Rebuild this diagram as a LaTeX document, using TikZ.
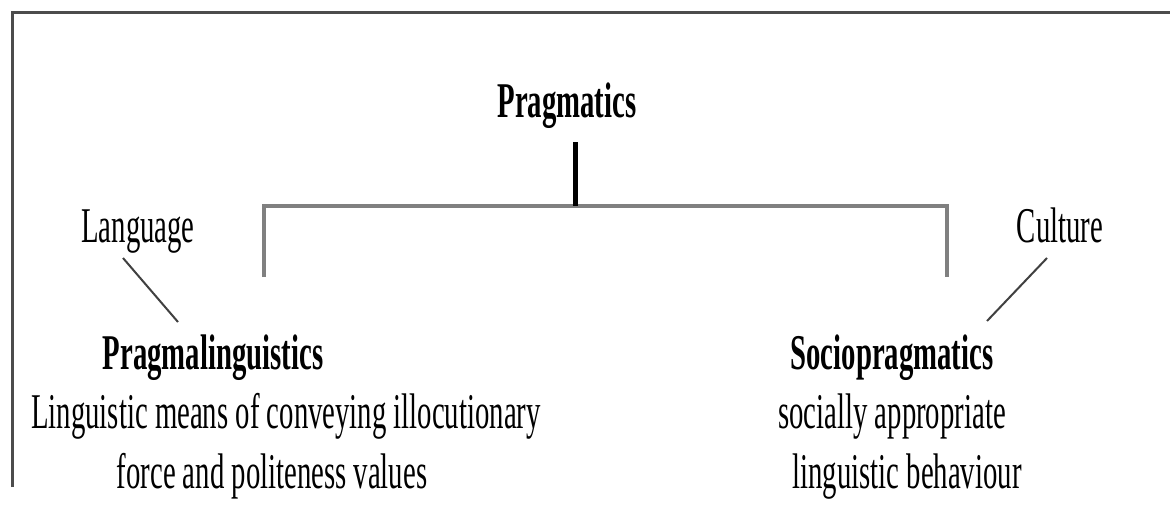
\documentclass[tikz,border=0pt]{standalone}
\usepackage{fontspec}
\setmainfont{Liberation Serif}[FakeStretch=0.575]
\usepackage{tikz}
\usetikzlibrary{positioning}

\tikzset{
  txt/.style={font=\fontsize{25}{30}\selectfont, inner sep=0pt, anchor=base, text=black},
  head/.style={txt, font=\fontsize{25}{30}\selectfont\bfseries},
  frameline/.style={draw=black!70, line width=1.5pt},
  tree/.style={draw=black!50, line width=2pt},
  slant/.style={draw=black!75, line width=1pt}
}

\begin{document}
\begin{tikzpicture}[x=0.5pt, y=-0.5pt]
    \useasboundingbox (0,0) rectangle (1170,520);

    % frame, only top and left sides show
    \draw [frameline] (12,487) -- (12,12) -- (1170,12);

    \node (prag) [head] at (567,117) {Pragmatics};

    \node (lang) [txt] at (138,242) {Language};
    \node (cult) [txt] at (1060,242) {Culture};

    \node (pling) [head] at (213,369) {Pragmalinguistics};
    \node (pmeans) [txt] at (286,428) {Linguistic means of conveying illocutionary};
    \node (pvalues) [txt] at (272,488) {force and politeness values};

    \node (sprag) [head] at (892,369) {Sociopragmatics};
    \node (sappr) [txt] at (892,428) {socially appropriate};
    \node (sbehav) [txt] at (907,488) {linguistic behaviour};

    \coordinate (stem) at (575,142);
    \coordinate (fork) at (575,206);
    \coordinate (forkL) at (264,206);
    \coordinate (forkR) at (947,206);
    \coordinate (legL) at (264,277);
    \coordinate (legR) at (947,277);

    \draw [tree] (legL) -- (forkL) -- (forkR) -- (legR);
    \draw [line width=2.5pt] (stem) -- (fork);

    \coordinate (langfoot) at (123,258);
    \coordinate (plingtop) at (178,322);
    \coordinate (cultfoot) at (1047,258);
    \coordinate (spragtop) at (987,321);
    \draw [slant] (langfoot) -- (plingtop);
    \draw [slant] (cultfoot) -- (spragtop);
\end{tikzpicture}
\end{document}
